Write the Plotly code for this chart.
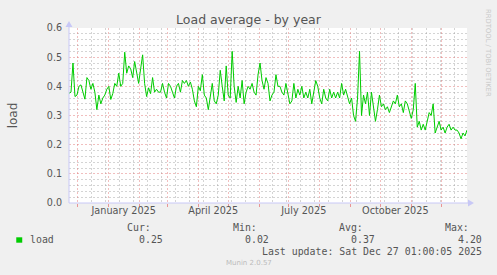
import plotly.graph_objects as go
import pandas as pd

# ---------------- data ----------------
start_time = "2024-11-22 01:00"
end_time = "2025-12-27 01:00"
dates = pd.date_range(start_time, periods=201, freq="2D")

load_part1 = [0.376, 0.38, 0.48, 0.365, 0.37, 0.40, 0.405, 0.38, 0.356, 0.43,
              0.42, 0.39, 0.41, 0.38, 0.32, 0.37, 0.34, 0.36, 0.37, 0.39,
              0.40, 0.355, 0.375, 0.41, 0.40, 0.445, 0.40, 0.41, 0.517, 0.445,
              0.47, 0.46, 0.43, 0.485, 0.45, 0.41, 0.46, 0.508, 0.41, 0.365,
              0.395, 0.375, 0.43, 0.38, 0.39, 0.38, 0.38, 0.41, 0.38, 0.36]
load_part2 = [0.41, 0.40, 0.38, 0.36, 0.40, 0.41, 0.38, 0.42, 0.41, 0.42,
              0.40, 0.415, 0.39, 0.35, 0.33, 0.40, 0.385, 0.44, 0.37, 0.36,
              0.32, 0.37, 0.41, 0.35, 0.34, 0.37, 0.455, 0.40, 0.35, 0.47,
              0.37, 0.36, 0.52, 0.40, 0.345, 0.40, 0.36, 0.42, 0.34, 0.38,
              0.40, 0.39, 0.41, 0.38, 0.37, 0.44, 0.48, 0.42, 0.39, 0.43]
load_part3 = [0.41, 0.35, 0.37, 0.38, 0.44, 0.40, 0.40, 0.38, 0.37, 0.41,
              0.38, 0.34, 0.35, 0.41, 0.36, 0.39, 0.37, 0.40, 0.36, 0.38,
              0.36, 0.39, 0.34, 0.38, 0.42, 0.40, 0.36, 0.34, 0.39, 0.36,
              0.35, 0.39, 0.36, 0.38, 0.36, 0.38, 0.36, 0.41, 0.37, 0.39,
              0.36, 0.34, 0.36, 0.30, 0.28, 0.36, 0.52, 0.30, 0.37, 0.34]
load_part4 = [0.38, 0.30, 0.38, 0.33, 0.28, 0.32, 0.37, 0.33, 0.34, 0.32,
              0.33, 0.31, 0.33, 0.35, 0.34, 0.37, 0.33, 0.34, 0.31, 0.35,
              0.34, 0.31, 0.29, 0.32, 0.41, 0.26, 0.28, 0.25, 0.27, 0.25,
              0.28, 0.31, 0.30, 0.34, 0.24, 0.26, 0.28, 0.25, 0.26, 0.24,
              0.26, 0.27, 0.25, 0.26, 0.25, 0.25, 0.24, 0.22, 0.24, 0.23,
              0.25]
load_values = load_part1 + load_part2 + load_part3 + load_part4

label_dates = ["2025-01-16", "2025-04-16", "2025-07-16", "2025-10-16"]
label_texts = ["January 2025", "April 2025", "July 2025", "October 2025"]

stat_headers = ["Cur:", "Min:", "Avg:", "Max:"]
stat_values = ["0.25", "0.02", "0.37", "4.20"]
series_name = "load"
last_update = "Last update: Sat Dec 27 01:00:05 2025"

# ---------------- layout helpers ----------------
W, H = 497, 275
L, R, T, B = 67, 30, 28, 72
PW, PH = W - L - R, H - T - B


def px2x(px):
    return (px - L) / PW


def py2y(py):
    return (T + PH - py) / PH


GREEN = "#00CC00"
AXIS = "#C8C8F6"
MGRID = "rgba(225,110,110,0.45)"
GRID = "rgba(160,160,160,0.45)"
TXT = "#555555"
SANS = "DejaVu Sans"
MONO = "DejaVu Sans Mono"
DASH = "2px,2px"

fig = go.Figure()
fig.add_trace(go.Scatter(x=dates, y=load_values, mode="lines",
                         line=dict(color=GREEN, width=1), showlegend=False,
                         hoverinfo="skip"))
# invisible trace to carry the label axis
fig.add_trace(go.Scatter(x=[dates[0]], y=[0], xaxis="x2", mode="markers",
                         marker=dict(opacity=0), showlegend=False,
                         hoverinfo="skip"))

fig.update_layout(
    width=W, height=H, autosize=False,
    margin=dict(l=L, r=R, t=T, b=B, pad=0),
    paper_bgcolor="#F0F0F0", plot_bgcolor="#FFFFFF",
    showlegend=False,
    title=dict(text="Load average - by year", x=0.5, xanchor="center",
               y=1 - 19.5 / H, yanchor="middle",
               font=dict(family=SANS, size=12.5, color=TXT)),
    xaxis=dict(type="date", range=[start_time, end_time],
               showticklabels=False,
               tick0="2024-12-01", dtick="M1",
               showgrid=True, gridcolor=MGRID, griddash=DASH, gridwidth=1,
               ticks="outside", ticklen=3, tickcolor="rgba(230,110,110,0.7)",
               minor=dict(tick0="2024-12-01", dtick=14 * 86400000,
                          showgrid=True, gridcolor=GRID, griddash=DASH,
                          gridwidth=1, ticks=""),
               showline=False, zeroline=False, fixedrange=True),
    xaxis2=dict(type="date", range=[start_time, end_time], overlaying="x",
                anchor="y", side="bottom", tickmode="array",
                tickvals=label_dates, ticktext=label_texts,
                showgrid=False, showline=False, zeroline=False, ticks="",
                ticklen=0,
                tickfont=dict(family=SANS, size=9.7, color=TXT)),
    yaxis=dict(range=[0, 0.6], tick0=0, dtick=0.1, tickformat=".1f",
               showgrid=True, gridcolor=MGRID, griddash=DASH, gridwidth=1,
               ticks="outside", ticklen=4, tickcolor="rgba(0,0,0,0)",
               minor=dict(dtick=0.02, showgrid=True, gridcolor=GRID,
                          griddash=DASH, gridwidth=1, ticks=""),
               tickfont=dict(family=SANS, size=9.6, color=TXT),
               title=dict(text="load", standoff=26,
                          font=dict(family=SANS, size=12, color=TXT)),
               showline=False, zeroline=False, fixedrange=True),
)

shapes = []
# axis lines with arrows
shapes.append(dict(type="line", xref="paper", yref="paper",
                   x0=0, x1=px2x(469), y0=0, y1=0,
                   line=dict(color=AXIS, width=1)))
shapes.append(dict(type="line", xref="paper", yref="paper",
                   x0=0, x1=0, y0=0, y1=py2y(24),
                   line=dict(color=AXIS, width=1)))
shapes.append(dict(type="path", xref="paper", yref="paper",
                   path=f"M {px2x(474)},{py2y(T+PH)} L {px2x(468)},{py2y(T+PH-3.5)} "
                        f"L {px2x(468)},{py2y(T+PH+3.5)} Z",
                   fillcolor=AXIS, line=dict(color=AXIS, width=0)))
shapes.append(dict(type="path", xref="paper", yref="paper",
                   path=f"M {px2x(L)},{py2y(21)} L {px2x(L-3.5)},{py2y(27)} "
                        f"L {px2x(L+3.5)},{py2y(27)} Z",
                   fillcolor=AXIS, line=dict(color=AXIS, width=0)))
# legend colour box
shapes.append(dict(type="rect", xref="paper", yref="paper",
                   x0=px2x(14), x1=px2x(20), y0=py2y(237.3), y1=py2y(242.7),
                   fillcolor=GREEN, line=dict(width=0)))
fig.update_layout(shapes=shapes)

ann = []


def text(t, px, py, xanchor="right", size=9.9, family=MONO, color=TXT, angle=0):
    ann.append(dict(text=t, x=px2x(px), y=py2y(py), xref="paper", yref="paper",
                    xanchor=xanchor, yanchor="middle", showarrow=False,
                    borderpad=0, textangle=angle,
                    font=dict(family=family, size=size, color=color)))


header_right = [150.7, 257, 363, 470]
value_right = [162.7, 269.3, 375.7, 482.7]
for h, xr in zip(stat_headers, header_right):
    text(h, xr, 227.5)
for v, xr in zip(stat_values, value_right):
    text(v, xr, 239.5)
text(series_name, 26.7, 239.5, xanchor="left")
text(last_update, 482.7, 251.7)
text("Munin 2.0.57", 248, 263.3, xanchor="center", size=7, family=SANS,
     color="#BBBBBB")
text("RRDTOOL / TOBI OETIKER", 488, 53, xanchor="center", size=6.8,
     family=SANS, color="#C8C8C8", angle=90)
fig.update_layout(annotations=ann)

fig.write_html("out.html")
